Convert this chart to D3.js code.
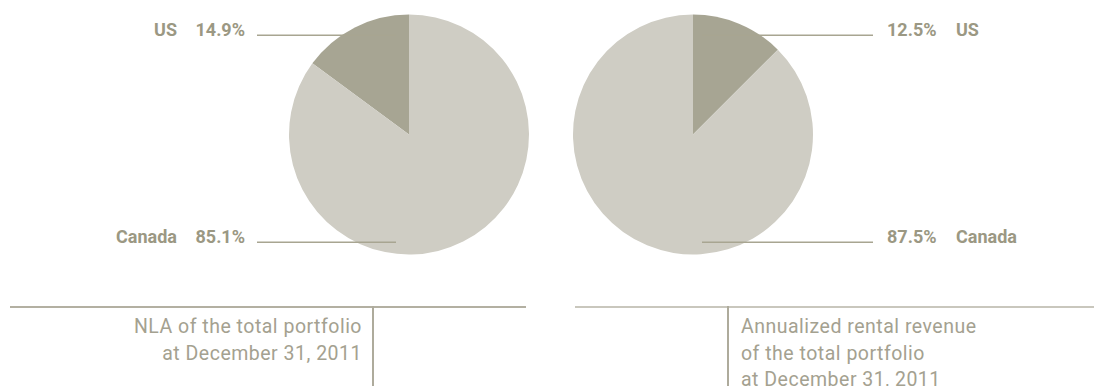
<!DOCTYPE html>
<html>
<head>
<meta charset="utf-8">
<script src="https://cdn.jsdelivr.net/npm/d3@7"></script>
<style>
  html, body { margin: 0; padding: 0; background: #fff; }
  svg { display: block; font-family: Roboto, 'Open Sans', sans-serif; }
  .lbl { font-weight: 700; font-size: 18px; fill: #9b9883; }
  .cap { font-size: 19.5px; letter-spacing: 0.5px; fill: #a4a190; }
</style>
</head>
<body>
<svg id="chart" width="1094" height="386"></svg>
<script>
'use strict';

// values
var regions = ['US', 'Canada'];
var nlaShares = [14.9, 85.1];
var revenueShares = [12.5, 87.5];
var nlaCaption = ['NLA of the total portfolio', 'at December 31, 2011'];
var revenueCaption = ['Annualized rental revenue', 'of the total portfolio', 'at December 31, 2011'];

var sliceColors = d3.scaleOrdinal().domain(regions).range(['#a7a593', '#cfcdc4']);
var fmt = function (v) { return d3.format('.1f')(v) + '%'; };

var svg = d3.select('#chart');
var radius = 120;

// left pie grows counter-clockwise, labels on the left
// right pie grows clockwise, labels on the right
var panels = [
  {values: nlaShares, cx: 409, side: -1, caption: nlaCaption, divider: 373, rule: [10, 526]},
  {values: revenueShares, cx: 693, side: 1, caption: revenueCaption, divider: 728, rule: [575, 1094]}
];
var cy = 134.5;

var arc = d3.arc().innerRadius(0).outerRadius(radius);

panels.forEach(function (p) {
  var pie = d3.pie()
    .sort(null)
    .startAngle(0)
    .endAngle(p.side * 2 * Math.PI);
  var arcs = pie(p.values);

  var g = svg.append('g').attr('transform', 'translate(' + p.cx + ',' + cy + ')');

  g.selectAll('path.slice')
    .data(arcs)
    .enter().append('path')
    .attr('class', 'slice')
    .attr('d', arc)
    .attr('fill', function (d, i) { return sliceColors(regions[i]); });

  // label rows: US at the top, Canada at the bottom
  var rowY = d3.scaleOrdinal().domain(regions).range([-radius * 0.827, radius * 0.898]);

  regions.forEach(function (name, i) {
    var y = rowY(name);
    var lineInner = p.side < 0 ? -13 : 9;
    var lineOuter = p.side < 0 ? -152 : 180;
    g.append('line')
      .attr('x1', lineOuter).attr('x2', lineInner)
      .attr('y1', y).attr('y2', y)
      .attr('stroke', '#a8a591')
      .attr('stroke-width', 1.3);

    var numX = p.side < 0 ? lineOuter - 12 : lineOuter + 14;
    var nameX = p.side < 0 ? numX - 68 : numX + 69;
    var anchor = p.side < 0 ? 'end' : 'start';
    g.append('text')
      .attr('class', 'lbl')
      .attr('x', numX).attr('y', y + 0.7)
      .attr('text-anchor', anchor)
      .text(fmt(p.values[i]));
    g.append('text')
      .attr('class', 'lbl')
      .attr('x', nameX).attr('y', y + 0.7)
      .attr('text-anchor', anchor)
      .text(name);
  });

  // caption block
  svg.append('line')
    .attr('x1', p.rule[0]).attr('x2', p.rule[1])
    .attr('y1', 307).attr('y2', 307)
    .attr('stroke', p.side < 0 ? '#b3b0a2' : '#c9c7bd')
    .attr('stroke-width', 2);
  svg.append('line')
    .attr('x1', p.divider).attr('x2', p.divider)
    .attr('y1', 306).attr('y2', 386)
    .attr('stroke', '#aeab9c')
    .attr('stroke-width', 2);

  var capX = p.side < 0 ? p.divider - 11 : p.divider + 13;
  svg.append('g').selectAll('text')
    .data(p.caption)
    .enter().append('text')
    .attr('class', 'cap')
    .attr('x', capX)
    .attr('y', function (d, i) { return 333 + i * 26.5; })
    .attr('text-anchor', p.side < 0 ? 'end' : 'start')
    .text(function (d) { return d; });
});
</script>
</body>
</html>
